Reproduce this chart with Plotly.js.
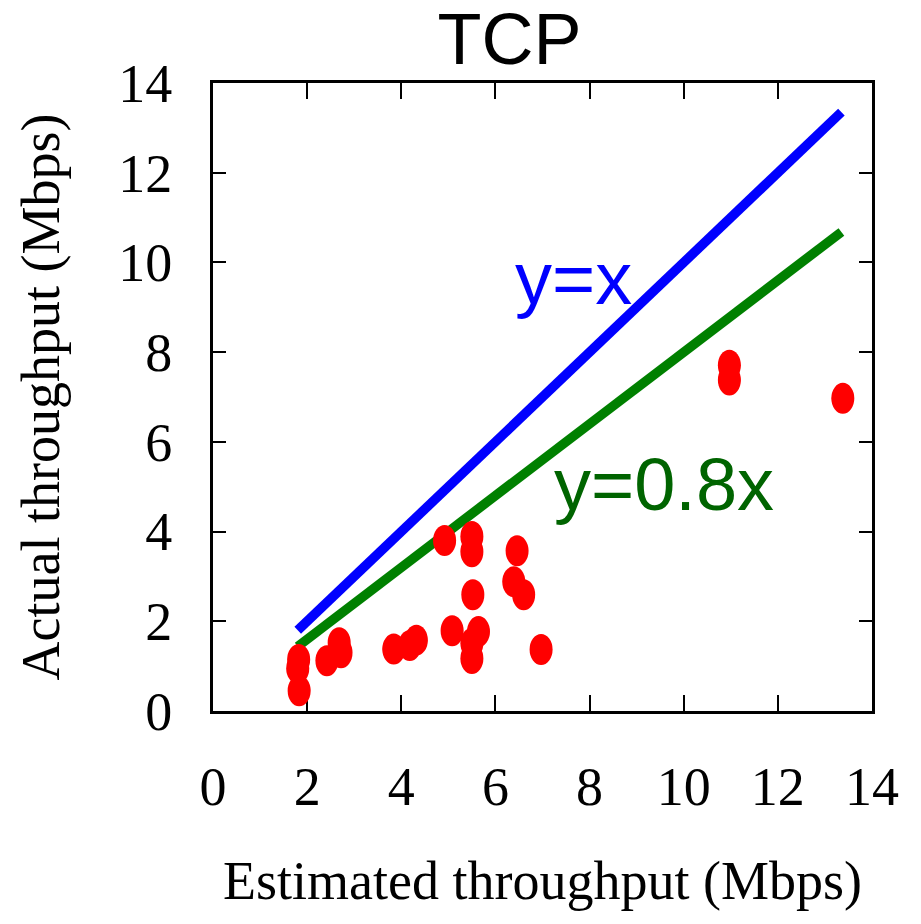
<!DOCTYPE html>
<html>
<head>
<meta charset="utf-8">
<script src="https://cdn.plot.ly/plotly-3.0.1.min.js"></script>
<style>html,body{margin:0;padding:0;background:#fff;}#chart{width:921px;height:924px;}</style>
</head>
<body>
<div id="chart"></div>
<script>
// Measured points (estimated throughput vs actual throughput, Mbps)
const estimated = [1.82, 1.80, 1.83, 2.42, 2.68, 2.72, 3.84, 4.18, 4.32, 4.92, 5.50, 5.50, 5.52, 5.08, 5.64, 5.50, 5.50, 6.46, 6.39, 6.60, 6.97, 10.97, 10.97, 13.38];
const actual    = [1.15, 0.95, 0.45, 1.12, 1.52, 1.30, 1.38, 1.46, 1.58, 3.80, 3.89, 3.55, 2.59, 1.79, 1.77, 1.51, 1.17, 3.57, 2.88, 2.59, 1.37, 7.71, 7.38, 6.97];
// Reference lines
const lineX   = [1.8, 13.35];
const lineYx  = [1.8, 13.35];
const lineY08 = [1.44, 10.68];
const xTicks = [0, 2, 4, 6, 8, 10, 12, 14];
const yTicks = [0, 2, 4, 6, 8, 10, 12, 14];

const serif = 'Liberation Serif, Times New Roman, serif';
const sans = 'Liberation Sans, Arial, sans-serif';

const traces = [
  {x: lineX, y: lineYx, mode: 'lines', line: {color: '#0000ff', width: 9.5}, hoverinfo: 'skip', showlegend: false},
  {x: lineX, y: lineY08, mode: 'lines', line: {color: '#008000', width: 9.5}, hoverinfo: 'skip', showlegend: false},
  {x: estimated, y: actual, mode: 'markers', marker: {color: '#ff0000', size: 22, symbol: 'circle', line: {width: 0}}, showlegend: false}
];

const shapes = estimated.map((xv, i) => ({
  type: 'circle', xref: 'x', yref: 'y',
  xsizemode: 'pixel', ysizemode: 'pixel',
  xanchor: xv, yanchor: actual[i],
  x0: -11.5, x1: 11.5, y0: -15.5, y1: 15.5,
  fillcolor: '#ff0000', line: {width: 0}, layer: 'above'
}));

const axisCommon = {
  range: [0, 14], autorange: false, showgrid: false, zeroline: false,
  showline: true, linecolor: '#000', linewidth: 3, mirror: 'ticks',
  ticks: 'inside', tickwidth: 2, tickcolor: '#000',
  tickmode: 'array',
  tickfont: {family: serif, size: 54, color: '#000'}
};

const layout = {
  width: 921, height: 924,
  paper_bgcolor: '#fff', plot_bgcolor: '#fff',
  margin: {l: 212.5, r: 49, t: 83, b: 213},
  showlegend: false,
  title: {text: 'TCP', font: {family: sans, size: 72, color: '#000'}, x: 0.45, xref: 'paper', xanchor: 'center', y: 0.958, yref: 'container', yanchor: 'middle'},
  xaxis: Object.assign({}, axisCommon, {
    tickvals: xTicks, ticktext: xTicks.map(String), ticklen: 16, ticklabelstandoff: 26,
    title: {text: 'Estimated throughput (Mbps)', font: {family: serif, size: 54, color: '#000'}, standoff: 46}
  }),
  yaxis: Object.assign({}, axisCommon, {
    tickvals: yTicks, ticktext: yTicks.map(String), ticklen: 13, ticklabelstandoff: 27,
    title: {text: 'Actual throughput (Mbps)', font: {family: serif, size: 54, color: '#000'}, standoff: 42}
  }),
  shapes: shapes,
  annotations: [
    {text: 'y=x', x: 6.38, y: 9.65, xref: 'x', yref: 'y', xanchor: 'left', yanchor: 'middle', showarrow: false, font: {family: sans, size: 74, color: '#0000ff'}},
    {text: 'y=0.8x', x: 7.21, y: 5.04, xref: 'x', yref: 'y', xanchor: 'left', yanchor: 'middle', showarrow: false, font: {family: sans, size: 74, color: '#006400'}}
  ]
};

Plotly.newPlot('chart', traces, layout, {displayModeBar: false, staticPlot: true});
</script>
</body>
</html>
